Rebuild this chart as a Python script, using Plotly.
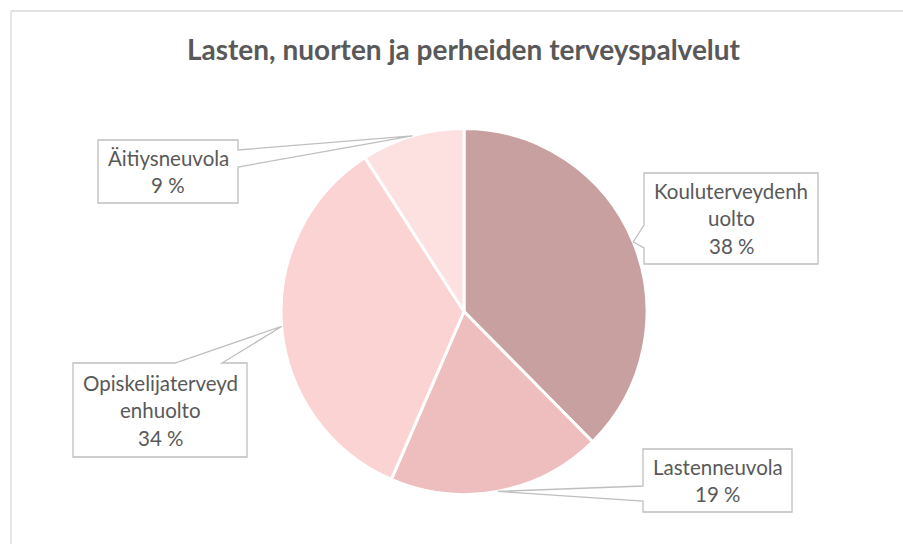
import math
import plotly.graph_objects as go

# ---- data ----
labels = ["Kouluterveydenhuolto", "Lastenneuvola", "Opiskelijaterveydenhuolto", "Äitiysneuvola"]
label_lines = [["Kouluterveydenh", "uolto"], ["Lastenneuvola"], ["Opiskelijaterveyd", "enhuolto"], ["Äitiysneuvola"]]
values = [37.6, 18.9, 34.4, 9.1]
colors = ["#C9A0A0", "#EEBEBE", "#FBD3D3", "#FDE0E0"]
title = "Lasten, nuorten ja perheiden terveyspalvelut"

# ---- layout geometry (pixels) ----
W, H = 903, 544
cx, cy, R = 464, 311.5, 183
# callout boxes: (x0, y0, x1, y1, side, base_a, base_b)
boxes = [
    (644, 173, 818, 264, "left", 225, 248),
    (643, 449, 792, 512, "left", 486, 501),
    (73, 363, 247, 457, "top", 175, 222),
    (98, 140, 238, 203, "right", 150, 167),
]

def px(x):
    return x / W

def py(y):
    return 1 - y / H

fig = go.Figure()
fig.add_trace(go.Pie(
    labels=labels, values=values, sort=False, direction="clockwise", rotation=0,
    marker=dict(colors=colors, line=dict(color="white", width=3)),
    textinfo="none", hoverinfo="skip",
    domain=dict(x=[px(cx - R), px(cx + R)], y=[py(cy + R), py(cy - R)]),
))

total = sum(values)
shapes = []
annotations = []
cum = 0
FONT = "Lato"
for i, v in enumerate(values):
    mid = (cum + v / 2) / total * 2 * math.pi
    cum += v
    tx = cx + R * math.sin(mid)
    ty = cy - R * math.cos(mid)
    x0, y0, x1, y1, side, a, b = boxes[i]
    if side == "left":
        pts = [(x0, y0), (x1, y0), (x1, y1), (x0, y1), (x0, b), (tx, ty), (x0, a)]
    elif side == "right":
        pts = [(x0, y0), (x1, y0), (x1, a), (tx, ty), (x1, b), (x1, y1), (x0, y1)]
    else:  # top
        pts = [(x0, y0), (a, y0), (tx, ty), (b, y0), (x1, y0), (x1, y1), (x0, y1)]
    path = "M " + " L ".join(f"{px(x):.5f},{py(y):.5f}" for x, y in pts) + " Z"
    shapes.append(dict(type="path", xref="paper", yref="paper", path=path,
                       fillcolor="white", line=dict(color="#BFBFBF", width=1.3)))
    lines = label_lines[i] + [f"{round(v / total * 100)} %"]
    n = len(lines)
    bcx = (x0 + x1) / 2
    bcy = (y0 + y1) / 2
    step = 27.5
    for k, t in enumerate(lines):
        ly = bcy + (k - (n - 1) / 2) * step
        annotations.append(dict(text=t, x=px(bcx), y=py(ly), xref="paper", yref="paper",
                                showarrow=False, xanchor="center", yanchor="middle",
                                font=dict(family=FONT, size=20.5, color="#595959")))

# outer chart frame
shapes.append(dict(type="line", xref="paper", yref="paper", x0=px(11), y0=py(11), x1=px(W + 5), y1=py(11),
                   line=dict(color="#D9D9D9", width=1.3)))
shapes.append(dict(type="line", xref="paper", yref="paper", x0=px(11), y0=py(11), x1=px(11), y1=py(H + 5),
                   line=dict(color="#D9D9D9", width=1.3)))

annotations.append(dict(text=f"<b>{title}</b>", x=px(463.5), y=py(49), xref="paper", yref="paper",
                        showarrow=False, xanchor="center", yanchor="middle",
                        font=dict(family=FONT, size=28, color="#595959")))

fig.update_layout(
    width=W, height=H, margin=dict(l=0, r=0, t=0, b=0),
    paper_bgcolor="white", plot_bgcolor="white", showlegend=False,
    shapes=shapes, annotations=annotations, hovermode=False,
)
fig.write_html("out.html", config={"displayModeBar": False},
               post_script="document.body.style.margin='0px';")
